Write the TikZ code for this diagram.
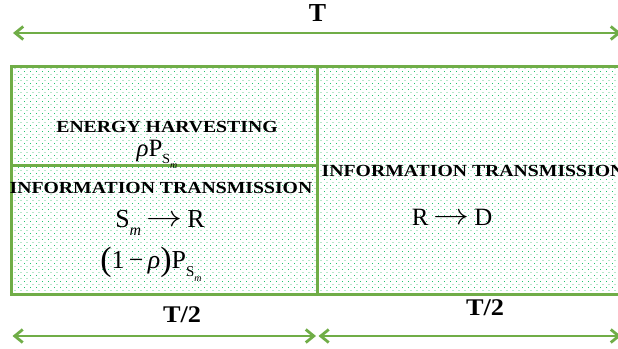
\documentclass[tikz,border=0pt]{standalone}
\usepackage{fontspec}
\setmainfont{Liberation Serif}
\newfontfamily\lbl[FakeStretch=1.165]{Liberation Serif}
\newfontfamily\halffont[FakeStretch=1.1]{Liberation Serif}
\usetikzlibrary{arrows.meta,patterns}
\definecolor{G}{HTML}{70AD47}
\definecolor{dotA}{HTML}{22C46E}
\definecolor{dotB}{HTML}{B8E8CB}
\pgfdeclarepatternformonly{brightdots}{\pgfpoint{-1bp}{-1bp}}{\pgfpoint{1bp}{1bp}}{\pgfpoint{6bp}{6bp}}{%
  \pgfpathrectangle{\pgfpoint{0bp}{0bp}}{\pgfpoint{1bp}{1bp}}\pgfusepath{fill}}
\pgfdeclarepatternformonly{paledots}{\pgfpoint{2bp}{2bp}}{\pgfpoint{5bp}{5bp}}{\pgfpoint{6bp}{6bp}}{%
  \pgfpathrectangle{\pgfpoint{2bp}{3bp}}{\pgfpoint{2bp}{1bp}}\pgfusepath{fill}}
\newcommand{\subm}[1]{\raisebox{-0.32em}{\fontsize{#1}{#1}\selectfont\itshape m}}
\newcommand{\arr}{\hspace{0.2em}\smash{\raisebox{0.02em}{\scalebox{1.45}[1.2]{$\rightarrow$}}}\hspace{0.2em}}
\tikzset{
  panel/.style={line width=3bp, draw=G},
  dim/.style={line width=2.8bp, draw=G, {Straight Barb[length=8bp,width=13bp]}-{Straight Barb[length=8bp,width=13bp]}},
  caplbl/.style={inner sep=0pt, font=\lbl\bfseries\fontsize{17}{19}\selectfont},
  mathlbl/.style={inner sep=0pt, font=\fontsize{26}{30}\selectfont},
  biglbl/.style={inner sep=0pt, font=\bfseries\fontsize{26}{30}\selectfont},
  halflbl/.style={inner sep=0pt, font=\halffont\bfseries\fontsize{24}{28}\selectfont}
}
\begin{document}
\begin{tikzpicture}[x=1bp,y=-1bp]
\useasboundingbox (0,0) rectangle (618,348);
% panels
\coordinate (p1) at (11.5,66.7);
\coordinate (p2) at (317.3,165);
\coordinate (p3) at (317.3,294.3);
\coordinate (p4) at (640,294.3);
\fill[white] (p1) rectangle (p4);
\fill[pattern=brightdots, pattern color=dotA] (p1) rectangle (p4);
\fill[pattern=paledots, pattern color=dotB] (p1) rectangle (p4);
\draw[panel] (p1) rectangle (p3);
\draw[panel] (p1 -| p3) rectangle (p4);
\draw[panel] (p1 |- p2) -- (p2);
% top dimension
\coordinate (tl) at (13,33);
\coordinate (tr) at (621,33);
\draw[dim] (tl) -- (tr);
\node[biglbl] (T) at (317.5,13) {T};
% bottom dimensions
\coordinate (bl) at (12.5,336);
\coordinate (bm1) at (316,336);
\coordinate (bm2) at (318.5,336);
\coordinate (br) at (621,336);
\draw[dim] (bl) -- (bm1);
\draw[dim] (bm2) -- (br);
\node[halflbl] (h1) at (182,315) {T/2};
\node[halflbl] (h2) at (485,308) {T/2};
% left top cell
\node[caplbl] (eh) at (167,127) {ENERGY HARVESTING};
\node[mathlbl, font=\fontsize{25}{28}\selectfont] (rp) at (157,154) {\textit{ρ}P\raisebox{-0.3em}{\fontsize{14}{14}\selectfont S\subm{10}}};
% left bottom cell
\node[caplbl] (it1) at (161,187.5) {INFORMATION TRANSMISSION};
\node[mathlbl] (sr) at (160,223) {S\subm{16}\arr R};
\node[mathlbl] (orp) at (151,264) {\raisebox{-0.06em}{\fontsize{34}{34}\selectfont(}1\,−\,\textit{ρ}\raisebox{-0.06em}{\fontsize{34}{34}\selectfont)}P\raisebox{-0.3em}{\fontsize{15}{15}\selectfont S\subm{10}}};
% right cell
\node[caplbl, anchor=west] (it2) at (321.5,171) {INFORMATION TRANSMISSION};
\node[mathlbl, font=\fontsize{25}{30}\selectfont] (rd) at (452,217) {R\arr D};
\end{tikzpicture}
\end{document}
